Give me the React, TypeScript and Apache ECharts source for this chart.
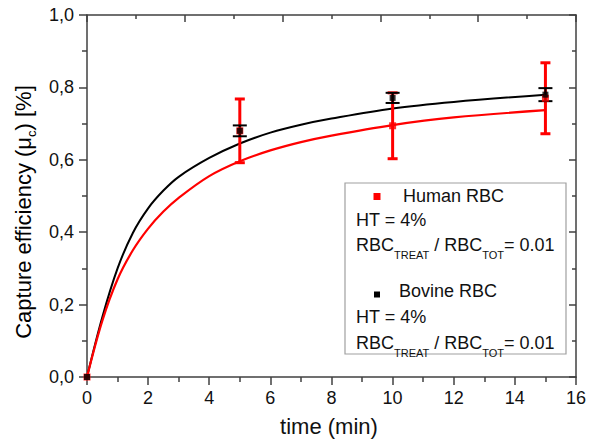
import React, { useEffect, useRef } from "react";
import * as echarts from "echarts";

// Fitted curves
const curveTime = [0, 0.5, 1, 1.5, 2, 2.5, 3, 4, 5, 6, 7, 8, 10, 12, 15];
const humanCurve = [0, 0.155, 0.27, 0.35, 0.41, 0.457, 0.495, 0.555, 0.596, 0.626, 0.649, 0.667, 0.696, 0.717, 0.737];
const bovineCurve = [0, 0.165, 0.3, 0.398, 0.466, 0.515, 0.553, 0.605, 0.645, 0.675, 0.697, 0.714, 0.742, 0.76, 0.78];

// Measured points with error bars
const pointTime = [0, 5, 10, 15];
const humanMean = [0, 0.68, 0.694, 0.77];
const humanErr = [0, 0.088, 0.091, 0.098];
const bovineMean = [0, 0.68, 0.771, 0.78];
const bovineErr = [0, 0.015, 0.014, 0.018];

// Axis tick labels
const xTicks = [0, 2, 4, 6, 8, 10, 12, 14, 16];
const yTicks = ["0,0", "0,2", "0,4", "0,6", "0,8", "1,0"];

const FONT = "'Liberation Sans', Arial, sans-serif";
const AXIS = "#404040";

function errBarSeries(name: string, color: string, mean: number[], err: number[], capHalf: number, lw: number, z: number) {
  const data = pointTime.map((t, i) => [t, mean[i] - err[i], mean[i] + err[i]]);
  return {
    name,
    type: "custom",
    z,
    data,
    encode: { x: 0, y: [1, 2] },
    renderItem: (params: any, api: any) => {
      const x = api.value(0);
      const lo = api.coord([x, api.value(1)]);
      const hi = api.coord([x, api.value(2)]);
      if (Math.abs(lo[1] - hi[1]) < 0.5) return { type: "group", children: [] };
      const st = { stroke: color, lineWidth: lw };
      return {
        type: "group",
        children: [
          { type: "line", shape: { x1: lo[0], y1: lo[1], x2: hi[0], y2: hi[1] }, style: st },
          { type: "line", shape: { x1: lo[0] - capHalf, y1: lo[1], x2: lo[0] + capHalf, y2: lo[1] }, style: st },
          { type: "line", shape: { x1: hi[0] - capHalf, y1: hi[1], x2: hi[0] + capHalf, y2: hi[1] }, style: st },
        ],
      };
    },
  };
}

function txt(x: number, y: number, text: string, rich?: any) {
  return {
    type: "text",
    x,
    y,
    z: 20,
    style: {
      text,
      fontSize: 18,
      fontFamily: FONT,
      fill: "#111",
      align: "left",
      verticalAlign: "middle",
      textAlign: "left",
      textVerticalAlign: "middle",
      rich,
    },
  };
}

const ratioRich = {
  m: { fontSize: 18, fontFamily: FONT, color: "#111", lineHeight: 30, verticalAlign: "middle" },
  s: { fontSize: 11, fontFamily: FONT, color: "#111", lineHeight: 12, verticalAlign: "bottom" },
};
const ratioText = "{m|RBC}{s|TREAT}{m| / RBC}{s|TOT}{m|= 0.01}";

const tickStyle = { color: AXIS, width: 1.5 };

export default function App() {
  const ref = useRef<HTMLDivElement>(null);
  useEffect(() => {
    if (!ref.current) return;
    const chart = echarts.init(ref.current, null, { renderer: "svg" });
    const option: any = {
      animation: false,
      backgroundColor: "#fff",
      grid: { left: 87, right: 12, top: 15, bottom: 64, containLabel: false },
      xAxis: [
        {
          type: "value",
          position: "bottom",
          min: 0,
          max: 16,
          interval: 2,
          axisLine: { show: true, onZero: false, lineStyle: tickStyle },
          axisTick: { show: true, inside: false, length: 8, lineStyle: tickStyle },
          minorTick: { show: true, splitNumber: 2, length: 5, lineStyle: tickStyle },
          axisLabel: {
            fontSize: 18,
            fontFamily: FONT,
            color: "#111",
            margin: 12,
            formatter: (v: number) => (xTicks.includes(v) ? String(v) : ""),
          },
          splitLine: { show: false },
          minorSplitLine: { show: false },
        },
        {
          type: "value",
          position: "top",
          min: 0,
          max: 5,
          interval: 1,
          axisLine: { show: true, onZero: false, lineStyle: tickStyle },
          axisTick: { show: true, inside: true, length: 7, lineStyle: tickStyle },
          minorTick: { show: true, splitNumber: 2, length: 4, lineStyle: tickStyle },
          axisLabel: { show: false },
          splitLine: { show: false },
        },
      ],
      yAxis: [
        {
          type: "value",
          position: "left",
          min: 0,
          max: 1,
          interval: 0.2,
          axisLine: { show: true, onZero: false, lineStyle: tickStyle },
          axisTick: { show: true, inside: false, length: 8, lineStyle: tickStyle },
          minorTick: { show: true, splitNumber: 2, length: 5, lineStyle: tickStyle },
          axisLabel: {
            fontSize: 18,
            fontFamily: FONT,
            color: "#111",
            margin: 13,
            formatter: (v: number) => yTicks[Math.round(v * 5)] ?? "",
          },
          splitLine: { show: false },
        },
        {
          type: "value",
          position: "right",
          min: 0,
          max: 1,
          interval: 0.2,
          axisLine: { show: true, onZero: false, lineStyle: tickStyle },
          axisTick: { show: true, inside: true, length: 7, lineStyle: tickStyle },
          minorTick: { show: true, splitNumber: 2, length: 4, lineStyle: tickStyle },
          axisLabel: { show: false },
          splitLine: { show: false },
        },
      ],
      series: [
        {
          name: "Bovine fit",
          type: "line",
          z: 2,
          smooth: 0.35,
          showSymbol: false,
          data: curveTime.map((t, i) => [t, bovineCurve[i]]),
          lineStyle: { color: "#000", width: 2 },
          itemStyle: { color: "#000" },
        },
        {
          name: "Human fit",
          type: "line",
          z: 3,
          smooth: 0.35,
          showSymbol: false,
          data: curveTime.map((t, i) => [t, humanCurve[i]]),
          lineStyle: { color: "#ff0000", width: 2.2 },
          itemStyle: { color: "#ff0000" },
        },
        errBarSeries("Human err", "#ff0000", humanMean, humanErr, 5, 3, 4),
        errBarSeries("Bovine err", "#000", bovineMean, bovineErr, 7, 2, 5),
        {
          name: "Human RBC",
          type: "scatter",
          z: 6,
          symbol: "rect",
          symbolSize: 7,
          data: pointTime.map((t, i) => [t, humanMean[i]]),
          itemStyle: { color: "#ff0000" },
        },
        {
          name: "Bovine RBC",
          type: "scatter",
          z: 7,
          symbol: "rect",
          symbolSize: 6,
          data: pointTime.map((t, i) => [t, bovineMean[i]]),
          itemStyle: { color: "#000" },
        },
      ],
      graphic: [
        {
          type: "text",
          x: 23,
          y: 212,
          rotation: Math.PI / 2,
          style: {
            text: "{m|Capture efficiency (μ}{s|c}{m|) [%]}",
            align: "center",
            verticalAlign: "middle",
            textAlign: "center",
            textVerticalAlign: "middle",
            rich: {
              m: { fontSize: 22, fontFamily: FONT, color: "#111", lineHeight: 30, verticalAlign: "middle" },
              s: { fontSize: 13, fontFamily: FONT, color: "#111", lineHeight: 13, verticalAlign: "bottom" },
            },
          },
        },
        {
          type: "text",
          x: 329,
          y: 426,
          style: {
            text: "time (min)",
            fontSize: 22,
            fontFamily: FONT,
            fill: "#111",
            align: "center",
            verticalAlign: "middle",
            textAlign: "center",
            textVerticalAlign: "middle",
          },
        },
        {
          type: "rect",
          z: 10,
          shape: { x: 345, y: 183, width: 221, height: 171 },
          style: { fill: "#fff", stroke: "#a0a0a0", lineWidth: 1.2 },
        },
        { type: "rect", z: 20, shape: { x: 373.5, y: 193, width: 7, height: 7 }, style: { fill: "#ff0000" } },
        txt(403, 196, "Human RBC"),
        txt(356, 220, "HT = 4%"),
        txt(356, 245, ratioText, ratioRich),
        { type: "rect", z: 20, shape: { x: 374, y: 291.5, width: 6, height: 6 }, style: { fill: "#000" } },
        txt(399, 291, "Bovine RBC"),
        txt(356, 317, "HT = 4%"),
        txt(356, 343, ratioText, ratioRich),
      ],
    };
    chart.setOption(option);
    return () => chart.dispose();
  }, []);
  return (
    <div
      ref={ref}
      style={{ position: "fixed", left: 0, top: 0, width: 589, height: 441, background: "#fff" }}
    />
  );
}
